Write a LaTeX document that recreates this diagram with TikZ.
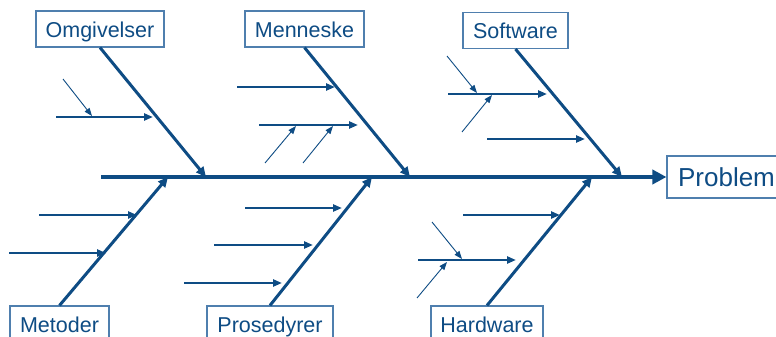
\documentclass[tikz,border=0pt]{standalone}
\usepackage{fontspec}
\setmainfont{Liberation Sans}
\usetikzlibrary{arrows.meta}
\definecolor{fb}{HTML}{0E4C84}
\definecolor{bx}{HTML}{4F7FAE}
\begin{document}
\begin{tikzpicture}[x=1pt,y=-1pt,
 lbl/.style={draw=bx, line width=1.1pt, text=fb, font=\fontsize{21.5}{25}\selectfont, minimum height=36pt, inner sep=0pt, text height=17pt, text depth=0pt},
 spine/.style={draw=fb, line width=3.6pt, -{Triangle[length=14pt,width=14pt]}},
 bone/.style={draw=fb, line width=3pt, -{Triangle[length=10pt,width=9pt]}},
 sub/.style={draw=fb, line width=2.3pt, -{Triangle[length=9pt,width=7pt]}},
 twig/.style={draw=fb, line width=0.9pt, -{Triangle[length=8pt,width=6pt]}}]
\fill[white] (0,0) rectangle (776,337);
\useasboundingbox (0,0) rectangle (776,337);

% category boxes
\node[lbl, minimum width=128pt] (omg) at (100,29) {Omgivelser};
\node[lbl, minimum width=119pt] (men) at (304.5,29) {Menneske};
\node[lbl, minimum width=105pt] (sof) at (515.5,30.5) {Software};
\node[lbl, minimum width=99pt] (met) at (59.5,324) {Metoder};
\node[lbl, minimum width=126pt] (pro) at (270,324) {Prosedyrer};
\node[lbl, minimum width=112pt] (har) at (487,324) {Hardware};
\node[lbl, minimum width=119pt, minimum height=42pt, text height=19pt, font=\fontsize{26}{30}\selectfont] (prob) at (726.5,177) {Problem};

% spine
\coordinate (tail) at (101,177);
\draw[spine] (tail) -- (prob.west);

% spine junctions
\coordinate (s1) at (206,177);
\coordinate (s2) at (410,177);
\coordinate (s3) at (622,177);
\coordinate (s4) at (168,177);
\coordinate (s5) at (372,177);
\coordinate (s6) at (592,177);

% bones
\draw[bone] (omg.south) -- (s1);
\draw[bone] (men.south) -- (s2);
\draw[bone] (sof.south) -- (s3);
\draw[bone] (met.north) -- (s4);
\draw[bone] (pro.north) -- (s5);
\draw[bone] (har.north) -- (s6);

% Omgivelser
\coordinate (o1a) at (56,117); \coordinate (o1b) at (153,117);
\draw[sub] (o1a) -- (o1b);
\coordinate (o1t) at (63,79); \coordinate (o1m) at (92,116);
\draw[twig] (o1t) -- (o1m);

% Menneske
\coordinate (m1a) at (237,87); \coordinate (m1b) at (335,87);
\draw[sub] (m1a) -- (m1b);
\coordinate (m2a) at (259,125); \coordinate (m2b) at (358,125);
\draw[sub] (m2a) -- (m2b);
\coordinate (m2t1) at (265,163); \coordinate (m2e1) at (296,126);
\draw[twig] (m2t1) -- (m2e1);
\coordinate (m2t2) at (303,163); \coordinate (m2e2) at (333,126);
\draw[twig] (m2t2) -- (m2e2);

% Software
\coordinate (w1a) at (448,94); \coordinate (w1b) at (547,94);
\draw[sub] (w1a) -- (w1b);
\coordinate (w1t1) at (447,56); \coordinate (w1e1) at (477,93);
\draw[twig] (w1t1) -- (w1e1);
\coordinate (w1t2) at (462,132); \coordinate (w1e2) at (492,95);
\draw[twig] (w1t2) -- (w1e2);
\coordinate (w2a) at (487,139); \coordinate (w2b) at (585,139);
\draw[sub] (w2a) -- (w2b);

% Metoder
\coordinate (e1a) at (39,215); \coordinate (e1b) at (137,215);
\draw[sub] (e1a) -- (e1b);
\coordinate (e2a) at (9,253); \coordinate (e2b) at (106,253);
\draw[sub] (e2a) -- (e2b);

% Prosedyrer
\coordinate (p1a) at (245,208); \coordinate (p1b) at (342,208);
\draw[sub] (p1a) -- (p1b);
\coordinate (p2a) at (214,245); \coordinate (p2b) at (313,245);
\draw[sub] (p2a) -- (p2b);
\coordinate (p3a) at (184,283); \coordinate (p3b) at (282,283);
\draw[sub] (p3a) -- (p3b);

% Hardware
\coordinate (h1a) at (463,215); \coordinate (h1b) at (560,215);
\draw[sub] (h1a) -- (h1b);
\coordinate (h2a) at (418,260); \coordinate (h2b) at (516,260);
\draw[sub] (h2a) -- (h2b);
\coordinate (h2t1) at (432,222); \coordinate (h2e1) at (462,259);
\draw[twig] (h2t1) -- (h2e1);
\coordinate (h2t2) at (417,298); \coordinate (h2e2) at (447,262);
\draw[twig] (h2t2) -- (h2e2);
\end{tikzpicture}
\end{document}
